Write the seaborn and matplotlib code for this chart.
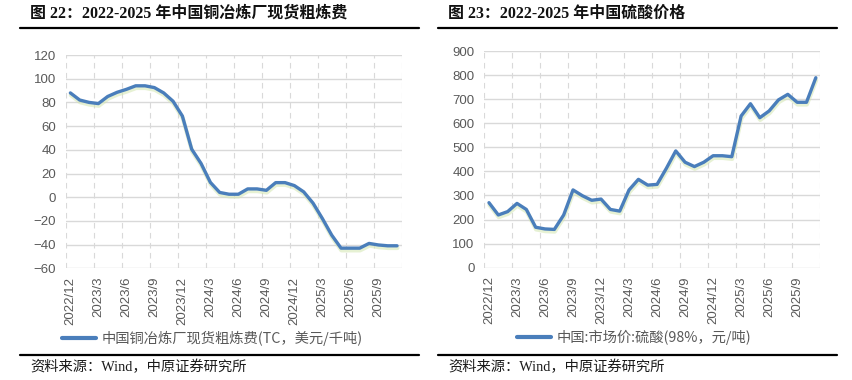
import numpy as np
import pandas as pd
import matplotlib
matplotlib.use("Agg")
import matplotlib.pyplot as plt
import matplotlib.patheffects as pe
from matplotlib.lines import Line2D
import seaborn as sns

# ---------------- data ----------------
months = [str(p).replace("-0", "/").replace("-", "/") for p in pd.period_range("2022-12", periods=36, freq="M")]
tick_labels = ["2022/12", "2023/3", "2023/6", "2023/9", "2023/12", "2024/3",
               "2024/6", "2024/9", "2024/12", "2025/3", "2025/6", "2025/9"]

tc_values = [88, 82, 80, 79, 85, 88.5, 91, 94, 94, 92.5, 88, 81,
             68.5, 40.5, 28.5, 12.5, 4, 2.5, 2.5, 7, 7, 5.8,
             12.3, 12.3, 9.8, 4.5, -5, -18, -32, -43, -43, -43,
             -39, -40.3, -41, -41]

acid_values = [270, 219, 233, 267, 242, 168, 161, 159, 219, 323, 299, 280,
               285, 242, 235, 323, 367, 343, 346, 413, 485, 438, 420, 438,
               465, 465, 461, 630, 681, 623, 651, 697, 720, 687, 687, 789]

left_title = "图 22：2022-2025 年中国铜冶炼厂现货粗炼费"
right_title = "图 23：2022-2025 年中国硫酸价格"
left_legend = "中国铜冶炼厂现货粗炼费(TC，美元/千吨)"
right_legend = "中国:市场价:硫酸(98%，元/吨)"
source_text = "资料来源：Wind，中原证券研究所"

df = pd.DataFrame({"month": months, "tc": tc_values, "acid": acid_values})
df["pos"] = np.arange(len(df))

# ---------------- style ----------------
sns.set_theme(style="white")
plt.rcParams["font.family"] = ["Liberation Sans", "Noto Sans CJK SC", "DejaVu Sans"]
plt.rcParams["axes.unicode_minus"] = True

LINE_C = "#4a7ebb"
GRID_C = "#d9d9d9"
TICK_C = "#595959"
CJK = ["Noto Sans CJK SC", "DejaVu Sans"]
SERIF_CJK = ["Liberation Serif", "Noto Sans CJK SC", "DejaVu Sans"]

W, H = 853, 380
fig = plt.figure(figsize=(W / 100, H / 100), dpi=100)
fig.patch.set_facecolor("white")


def fx(px):
    return px / W


def fy(py):
    return 1 - py / H


def make_axes(l, t, r, b):
    return fig.add_axes([fx(l), fy(b), fx(r) - fx(l), fy(t) - fy(b)])


ax1 = make_axes(65.7, 55, 401.7, 268.3)
ax2 = make_axes(484.3, 51, 820.5, 267.7)

shadow = [pe.SimpleLineShadow(offset=(0.3, -1.6), shadow_color="#d3e6b0", alpha=0.55, linewidth=3.0),
          pe.Normal()]

configs = [
    (ax1, "tc", left_legend, (-60, 120), np.arange(-60, 121, 20), (62, 338)),
    (ax2, "acid", right_legend, (0, 900), np.arange(0, 901, 100), (517, 337)),
]

for ax, col, lab, ylim, yticks, leg_pos in configs:
    sns.lineplot(data=df, x="pos", y=col, ax=ax, color=LINE_C, linewidth=2.4,
                 label=lab, path_effects=shadow, zorder=3)
    ax.set_xlim(-0.5, len(df) - 0.5)
    ax.set_ylim(*ylim)
    ax.set_yticks(yticks)
    ax.set_xticks(np.arange(0, len(df), 3))
    ax.set_xticklabels(tick_labels, rotation=90, ha="center", va="top")
    ax.set_xticks(np.arange(-0.5, len(df), 3), minor=True)
    ax.set_xlabel("")
    ax.set_ylabel("")
    for s in ax.spines.values():
        s.set_visible(False)
    ax.grid(False)
    ax.yaxis.grid(True, color=GRID_C, linewidth=1.0, linestyle="-")
    ax.xaxis.grid(True, which="minor", color=GRID_C, linewidth=0.8, linestyle=(0, (5, 4)))
    ax.set_axisbelow(True)
    ax.tick_params(axis="both", which="both", length=0, colors=TICK_C, labelsize=9.5)
    ax.tick_params(axis="y", pad=7)
    ax.tick_params(axis="x", pad=6)
    leg = ax.legend(loc="center left", bbox_to_anchor=(fx(leg_pos[0]), fy(leg_pos[1])),
                    bbox_transform=fig.transFigure, frameon=False, borderpad=0,
                    borderaxespad=0, handlelength=2.4, handletextpad=0.4,
                    prop={"family": CJK, "size": 10.3})
    for t in leg.get_texts():
        t.set_color(TICK_C)
    for h in leg.get_lines():
        h.set_linewidth(3)
        h.set_path_effects([])

# titles, rules and source
for x0, x1, title in [(20, 419, left_title), (438, 837, right_title)]:
    fig.add_artist(Line2D([fx(x0), fx(x1)], [fy(28.3), fy(28.3)], color="black", linewidth=1.6))
    fig.add_artist(Line2D([fx(x0), fx(x1)], [fy(355), fy(355)], color="black", linewidth=1.6))
    fig.text(fx(x0 + 10.5), fy(14), title, family=SERIF_CJK, weight="bold", size=11.5,
             color="#111111", ha="left", va="center")
    fig.text(fx(x0 + 10.5), fy(367), source_text, family=SERIF_CJK, size=10.3,
             color="#1a1a1a", ha="left", va="center")

fig.savefig("out.png", dpi=100, facecolor="white")
